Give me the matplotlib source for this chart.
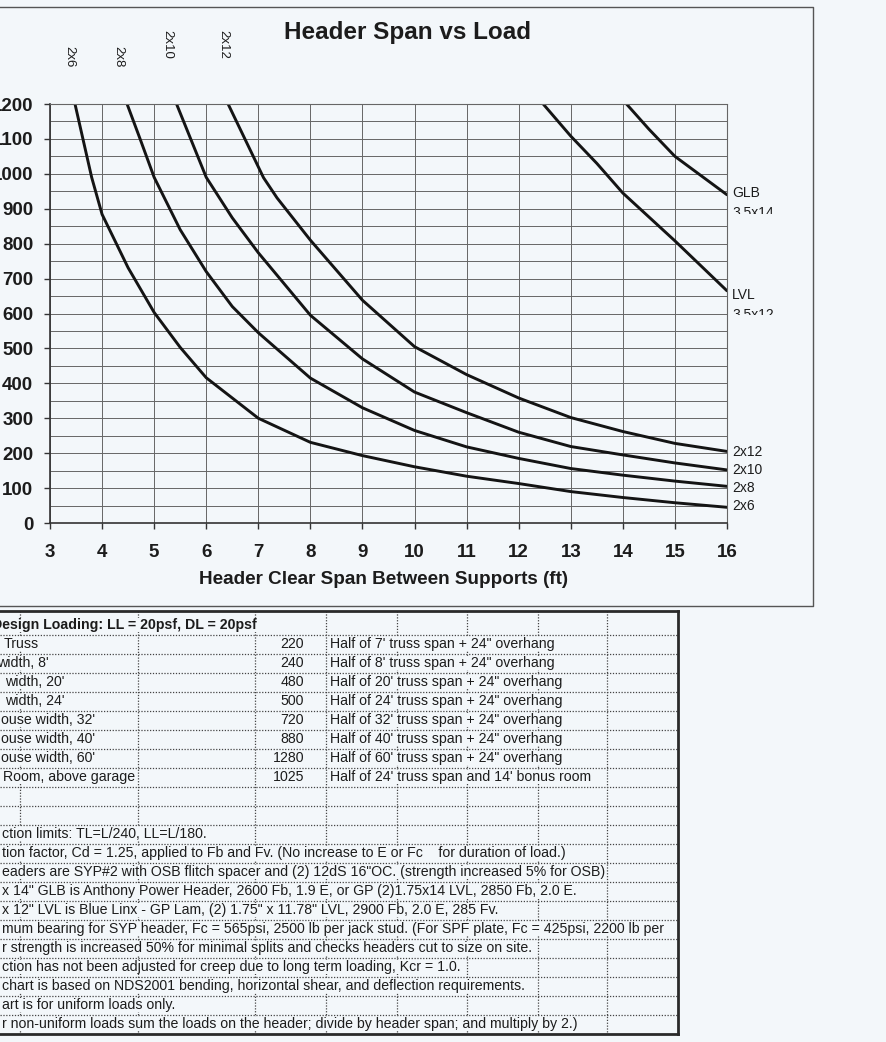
import matplotlib
matplotlib.use('Agg')
import matplotlib.pyplot as plt
from matplotlib.transforms import Bbox, blended_transform_factory

plt.rcParams['font.family'] = ['Liberation Sans', 'DejaVu Sans']

# curve readings: clear span (ft) -> allowable load (plf)
span_2x6 = [3.48, 3.8, 4, 4.5, 5, 5.5, 6, 7, 8, 9, 10, 11, 12, 13, 14, 15, 16]
load_2x6 = [1200, 990, 884, 731, 603, 503, 416, 300, 231, 193, 161, 134, 113, 90, 73, 58, 45]

span_2x8 = [4.48, 4.73, 5, 5.5, 6, 6.5, 7, 8, 9, 10, 11, 12, 13, 14, 15, 16]
load_2x8 = [1200, 1100, 990, 840, 720, 620, 545, 415, 330, 265, 218, 185, 156, 137, 120, 105]

span_2x10 = [5.43, 6, 6.5, 7, 8, 9, 10, 11, 12, 13, 14, 15, 16]
load_2x10 = [1200, 990, 874, 774, 595, 470, 375, 316, 260, 219, 195, 172, 152]

span_2x12 = [6.42, 7.1, 7.36, 8, 9, 10, 11, 12, 13, 14, 15, 16]
load_2x12 = [1200, 989, 931, 810, 638, 505, 425, 358, 302, 262, 228, 205]

span_lvl = [12.47, 13, 13.5, 14, 15, 16]
load_lvl = [1200, 1108, 1030, 945, 808, 665]

span_glb = [14.07, 14.5, 15, 15.5, 16]
load_glb = [1200, 1128, 1050, 995, 940]

x_ticks = list(range(3, 17))
y_ticks = list(range(0, 1201, 100))

# loading table
table_title = 'Design Loading: LL = 20psf, DL = 20psf'
case_names = ['Truss', 'width, 8\'', 'width, 20\'', 'width, 24\'', 'ouse width, 32\'',
              'ouse width, 40\'', 'ouse width, 60\'', 'Room, above garage']
case_loads = ['220', '240', '480', '500', '720', '880', '1280', '1025']
case_notes = ['Half of 7\' truss span + 24" overhang',
              'Half of 8\' truss span + 24" overhang',
              'Half of 20\' truss span + 24" overhang',
              'Half of 24\' truss span + 24" overhang',
              'Half of 32\' truss span + 24" overhang',
              'Half of 40\' truss span + 24" overhang',
              'Half of 60\' truss span + 24" overhang',
              'Half of 24\' truss span and 14\' bonus room']
footnotes = [
    'ction limits: TL=L/240, LL=L/180.',
    'tion factor, Cd = 1.25, applied to Fb and Fv. (No increase to E or Fc    for duration of load.)',
    'eaders are SYP#2 with OSB flitch spacer and (2) 12dS 16"OC. (strength increased 5% for OSB)',
    'x 14" GLB is Anthony Power Header, 2600 Fb, 1.9 E, or GP (2)1.75x14 LVL, 2850 Fb, 2.0 E.',
    'x 12" LVL is Blue Linx - GP Lam, (2) 1.75" x 11.78" LVL, 2900 Fb, 2.0 E, 285 Fv.',
    'mum bearing for SYP header, Fc = 565psi, 2500 lb per jack stud. (For SPF plate, Fc = 425psi, 2200 lb per',
    'r strength is increased 50% for minimal splits and checks headers cut to size on site.',
    'ction has not been adjusted for creep due to long term loading, Kcr = 1.0.',
    'chart is based on NDS2001 bending, horizontal shear, and deflection requirements.',
    'art is for uniform loads only.',
    'r non-uniform loads sum the loads on the header; divide by header span; and multiply by 2.)',
]

W, H = 886, 1042
BG = '#f3f7fa'
INK = '#1c1c1c'

fig = plt.figure(figsize=(W / 100, H / 100), dpi=100, facecolor=BG)

# page layer in pixel coordinates (frame + table)
pg = fig.add_axes([0, 0, 1, 1], zorder=0)
pg.set_xlim(0, W)
pg.set_ylim(H, 0)
pg.axis('off')

# chart frame
pg.plot([0, 813, 813, 0], [7, 7, 606, 606], color='#555555', lw=1.0)

# ---- chart ----
ax = fig.add_axes([50 / W, 1 - 523 / H, 677 / W, 419 / H], zorder=2)
ax.set_facecolor('none')
ax.set_xlim(3, 16)
ax.set_ylim(0, 1200)
ax.set_xticks(x_ticks)
ax.set_yticks(y_ticks)
ax.set_yticks(range(50, 1200, 100), minor=True)
ax.set_xticklabels([str(v) for v in x_ticks], fontsize=13.5, fontweight='bold', color=INK)
ax.set_yticklabels([str(v) for v in y_ticks], fontsize=13.5, fontweight='bold', color=INK)
ax.tick_params(axis='x', which='major', length=4, width=1, pad=11, color='#333333')
ax.tick_params(axis='y', which='major', length=4, width=1, pad=8, color='#333333')
ax.tick_params(which='minor', length=0)
ax.grid(True, which='major', axis='x', color='#666666', lw=0.7)
ax.grid(True, which='both', axis='y', color='#666666', lw=0.7)
ax.set_axisbelow(True)
for s in ['left', 'bottom']:
    ax.spines[s].set_color('#333333')
    ax.spines[s].set_linewidth(1.2)
for s in ['top', 'right']:
    ax.spines[s].set_color('#666666')
    ax.spines[s].set_linewidth(0.8)
    ax.spines[s].set_linestyle((0, (2, 1)))

for xs, ys in [(span_2x6, load_2x6), (span_2x8, load_2x8), (span_2x10, load_2x10),
               (span_2x12, load_2x12), (span_lvl, load_lvl), (span_glb, load_glb)]:
    ax.plot(xs, ys, color='#141414', lw=2.1, solid_capstyle='round', solid_joinstyle='round')

# rotated labels above the curves
tr = blended_transform_factory(ax.transData, ax.transAxes)
for x, y, lab in [(3.38, 1.112, '2x6'), (4.31, 1.112, '2x8'), (5.25, 1.143, '2x10'), (6.32, 1.143, '2x12')]:
    ax.text(x, y, lab, transform=tr, rotation=270, ha='center', va='center',
            fontsize=9.5, color=INK, clip_on=False)

# labels at the right end
for py, lab in [(452, '2x12'), (470, '2x10'), (488, '2x8'), (506, '2x6'), (193, 'GLB'), (295, 'LVL')]:
    pg.text(732, py, lab, ha='left', va='center', fontsize=10, color=INK)
for py, clip_y, lab in [(206, 214, '3.5x14'), (308, 315, '3.5x12')]:
    t = pg.text(732, py, lab, ha='left', va='top', fontsize=10, color=INK)
    t.set_clip_path(None)
    t.set_clip_box(Bbox([[720, H - clip_y], [800, H - py + 5]]))
    t.set_clip_on(True)

pg.text(408, 32, 'Header Span vs Load', ha='center', va='center', fontsize=17.5,
        fontweight='bold', color=INK)
pg.text(384, 580, 'Header Clear Span Between Supports (ft)', ha='center', va='center',
        fontsize=13.6, fontweight='bold', color=INK)

# ---- table ----
dot = dict(color='#444444', lw=0.9, ls=(0, (1, 1.3)), zorder=1)
row0, rh = 625, 19
for k in range(1, 22):
    y = row0 - rh / 2 + rh * k
    pg.plot([0, 678], [y, y], **dot)
for x in [20, 138, 255, 326, 397, 467, 538, 607]:
    pg.plot([x, x], [611, 1034], **dot)
pg.plot([0, 678], [611, 611], color='#2a2a2a', lw=2, zorder=1)
pg.plot([0, 678], [1034, 1034], color='#2a2a2a', lw=2, zorder=1)
pg.plot([678, 678], [611, 1034], color='#2a2a2a', lw=2, zorder=1)

box = dict(boxstyle='square,pad=0.02', fc=BG, ec='none')
tk = dict(fontsize=10.2, color=INK, va='center', bbox=box, zorder=3)

pg.text(-8, row0, table_title, ha='left', fontweight='bold', **tk)
name_x = [4, -3, 5, 5, 1, 1, 1, 3]
for i in range(len(case_names)):
    y = row0 + rh * (i + 1)
    pg.text(name_x[i], y, case_names[i], ha='left', **tk)
    pg.text(304, y, case_loads[i], ha='right', **tk)
    pg.text(330, y, case_notes[i], ha='left', **tk)

for j, note in enumerate(footnotes):
    y = row0 + rh * (11 + j)
    t = pg.text(2, y, note, ha='left', **tk)
    t.set_clip_path(None)
    t.set_clip_box(Bbox([[-10, 0], [681, H]]))
    t.set_clip_on(True)

fig.savefig('out.png', dpi=100, facecolor=BG)
